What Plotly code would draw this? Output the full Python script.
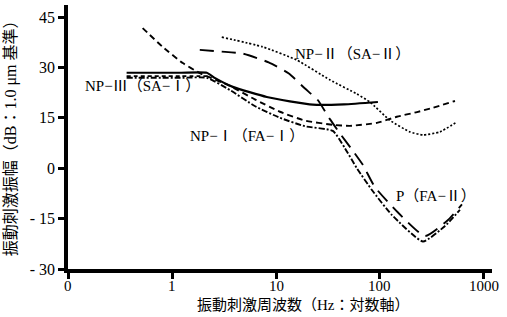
import numpy as np
import plotly.graph_objects as go

# ---- data (frequency in Hz, amplitude in dB re 1.0 um) ----
solid_f = [0.366, 1.2, 2.16, 2.6, 3.84, 8.15, 13.6, 22.6, 45, 95.5]
solid_db = [28.4, 28.4, 28.4, 26.8, 24.2, 21.2, 19.9, 18.9, 19.0, 19.7]

flat_dash_f = [0.366, 1.2, 2.16]
flat_dash_db = [27.4, 27.4, 27.4]

short_dash_f = [0.522, 0.813, 1.27, 1.85, 2.16, 3.59, 6.25, 10.9, 18.9, 35.2, 51.3, 93.3, 145, 227, 323, 526]
short_dash_db = [41.7, 36.1, 31.3, 28.3, 27.4, 24.5, 20.5, 16.8, 14.2, 12.9, 12.6, 13.5, 15.3, 16.7, 18.0, 20.0]

dashdot_f = [0.366, 1.2, 2.16, 3.59, 6.25, 10.9, 18.9, 35.2, 45.9, 59.9, 83.6, 130, 259, 422, 587]
dashdot_db = [26.9, 26.9, 26.9, 23.3, 18.5, 15.0, 12.5, 11.1, 6.0, 0.0, -6.5, -13.9, -21.8, -17.2, -12.4]

long_dash_f = [1.85, 3.0, 4.8, 8.5, 13.3, 19.0, 25.2, 33.0, 41.1, 53.6, 68.4, 89.3, 149, 271, 451, 614]
long_dash_db = [35.2, 34.7, 34.1, 31.5, 28.2, 23.7, 20.3, 14.6, 10.4, 5.6, 1.0, -5.6, -13.2, -20.2, -15.4, -10.8]

dotted_f = [3.01, 7.46, 15.8, 32.9, 59.9, 80, 124, 194, 259, 377, 550]
dotted_db = [39.0, 36.1, 32.2, 26.3, 22.1, 19.7, 14.3, 10.8, 9.9, 10.8, 13.8]

x_tickvals = [0.1, 1, 10, 100, 1000]
x_ticktext = ["0", "1", "10", "100", "1000"]
y_tickvals = [45, 30, 15, 0, -15, -30]
y_ticktext = ["45", "30", "15", "0", "- 15", "- 30"]

labels = ["NP−Ⅲ（SA−Ⅰ）", "NP−Ⅱ（SA−Ⅱ）", "NP−Ⅰ（FA−Ⅰ）", "P（FA−Ⅱ）"]
label_f = [0.52, 54.7, 5.24, 345]
label_db = [24.5, 34.0, 9.6, -8.3]

SERIF = "Liberation Serif, Noto Sans CJK JP, serif"

fig = go.Figure()

def add(f, db, dash, width=2.0):
    fig.add_trace(go.Scatter(x=f, y=db, mode="lines",
                             line=dict(color="black", width=width, dash=dash,
                                       shape="spline", smoothing=0.5),
                             showlegend=False, hoverinfo="skip"))

add(solid_f, solid_db, "solid", 2.2)
add(flat_dash_f, flat_dash_db, "4px,3px", 1.8)
add(short_dash_f, short_dash_db, "6px,4px", 1.9)
add(dashdot_f, dashdot_db, "6px,2px,2px,2px", 1.9)
add(long_dash_f, long_dash_db, "14px,8px", 1.9)
add(dotted_f, dotted_db, "2px,2px", 1.7)

for t, f, d in zip(labels, label_f, label_db):
    fig.add_annotation(x=np.log10(f), y=d, text=t, showarrow=False,
                       font=dict(family=SERIF, size=15, color="black"),
                       xanchor="center", yanchor="middle")

# x tick labels placed as annotations at the tick positions
for v, t in zip(x_tickvals, x_ticktext):
    fig.add_annotation(x=np.log10(v), xref="x", yref="paper", y=-0.064, text=t,
                       showarrow=False, font=dict(family=SERIF, size=15, color="black"),
                       xanchor="center", yanchor="middle")

fig.add_annotation(xref="paper", yref="paper", x=0.555, y=-0.136,
                   text="振動刺激周波数（Hz：対数軸）", showarrow=False,
                   font=dict(family=SERIF, size=15, color="black"),
                   xanchor="center", yanchor="middle")
fig.add_annotation(xref="paper", yref="paper", x=-0.134, y=0.511,
                   text="振動刺激振幅（dB：1.0 μm 基準）", showarrow=False,
                   textangle=-90,
                   font=dict(family=SERIF, size=16, color="black"),
                   xanchor="center", yanchor="middle")

fig.update_xaxes(type="log", range=[-1, 3.077], tickvals=x_tickvals, showticklabels=False,
                 showline=True, linewidth=3.5, linecolor="black", ticks="outside",
                 ticklen=6, tickwidth=2.5, tickcolor="black", showgrid=False,
                 zeroline=False)
fig.update_yaxes(range=[-30, 48.57], tickvals=y_tickvals, ticktext=y_ticktext,
                 showline=True, linewidth=3.5, linecolor="black", ticks="outside",
                 ticklen=6, tickwidth=2.5, tickcolor="black", showgrid=False,
                 zeroline=False, tickfont=dict(family=SERIF, size=16, color="black"))

fig.update_layout(width=507, height=317, margin=dict(l=68, r=15, t=5, b=48),
                  paper_bgcolor="white", plot_bgcolor="white", showlegend=False)

fig.write_html("out.html")
